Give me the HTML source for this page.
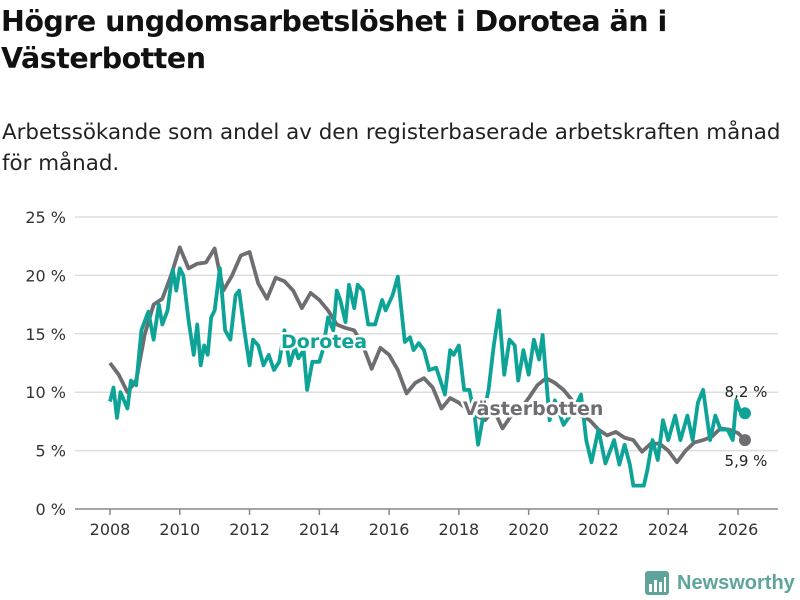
<!DOCTYPE html>
<html><head><meta charset="utf-8"><style>
body{margin:0;width:800px;height:600px;background:#fff;font-family:"Liberation Sans",sans-serif;overflow:hidden;position:relative}
.t{position:absolute;left:1px;font-family:"DejaVu Sans",sans-serif;font-weight:bold;font-size:28.5px;color:#111;white-space:nowrap;letter-spacing:-0.5px}
.s{position:absolute;left:2px;font-family:"DejaVu Sans",sans-serif;font-size:21.4px;color:#222;white-space:nowrap}
</style></head><body>
<div class="t" style="top:5px">Högre ungdomsarbetslöshet i Dorotea än i</div>
<div class="t" style="top:42px">Västerbotten</div>
<div class="s" style="top:120px">Arbetssökande som andel av den registerbaserade arbetskraften månad</div>
<div class="s" style="top:151px">för månad.</div>
<svg id="c" width="800" height="600" style="position:absolute;left:0;top:0"></svg>
<script>
const yTicks=[0,5,10,15,20,25];
const xTicks=[2008,2010,2012,2014,2016,2018,2020,2022,2024,2026];
const vbDates=[2008,2008.25,2008.5,2008.75,2009,2009.25,2009.5,2009.75,2010,2010.25,2010.5,2010.75,2011,2011.25,2011.5,2011.75,2012,2012.25,2012.5,2012.75,2013,2013.25,2013.5,2013.75,2014,2014.25,2014.5,2014.75,2015,2015.25,2015.5,2015.75,2016,2016.25,2016.5,2016.75,2017,2017.25,2017.5,2017.75,2018,2018.25,2018.5,2018.75,2019,2019.25,2019.5,2019.75,2020,2020.25,2020.5,2020.75,2021,2021.25,2021.5,2021.75,2022,2022.25,2022.5,2022.75,2023,2023.25,2023.5,2023.75,2024,2024.25,2024.5,2024.75,2025,2025.25,2025.5,2025.75,2026,2026.2];
const vbValues=[12.5,11.5,10,11,15,17.5,18,20,22.4,20.6,21,21.1,22.3,18.7,20,21.7,22,19.3,18,19.8,19.5,18.7,17.2,18.5,17.9,17,15.8,15.5,15.3,14,12,13.8,13.2,11.9,9.9,10.8,11.2,10.4,8.6,9.5,9.1,8.5,8,7.6,8.5,6.9,8,8.5,9.5,10.6,11.2,10.8,10.2,9.3,8,7.6,6.8,6.3,6.6,6.1,5.9,4.9,5.6,5.6,5,4,5,5.7,5.9,6.2,6.9,6.8,6.5,5.9];
const doDates=[2008,2008.1,2008.2,2008.3,2008.5,2008.6,2008.75,2008.9,2009.1,2009.25,2009.4,2009.5,2009.65,2009.8,2009.9,2010,2010.1,2010.25,2010.4,2010.5,2010.6,2010.7,2010.8,2010.9,2011,2011.15,2011.3,2011.45,2011.6,2011.7,2011.85,2012,2012.1,2012.25,2012.4,2012.55,2012.7,2012.85,2013,2013.15,2013.3,2013.4,2013.55,2013.65,2013.8,2014,2014.1,2014.25,2014.4,2014.5,2014.6,2014.75,2014.85,2015,2015.1,2015.25,2015.4,2015.6,2015.8,2015.9,2016.1,2016.25,2016.45,2016.6,2016.7,2016.85,2017,2017.15,2017.35,2017.6,2017.75,2017.85,2018,2018.15,2018.3,2018.45,2018.55,2018.7,2018.85,2019,2019.15,2019.3,2019.45,2019.6,2019.7,2019.85,2020,2020.15,2020.3,2020.4,2020.6,2020.75,2021,2021.3,2021.5,2021.65,2021.8,2022,2022.2,2022.45,2022.6,2022.75,2022.9,2023,2023.3,2023.4,2023.55,2023.7,2023.85,2024,2024.2,2024.35,2024.55,2024.7,2024.85,2025,2025.2,2025.35,2025.5,2025.7,2025.85,2025.95,2026.05,2026.2];
const doValues=[9.2,10.4,7.8,10,8.6,11,10.6,15.3,16.9,14.5,17.5,15.8,17,20.5,18.7,20.6,20,16.2,13.2,15.8,12.3,14,13.2,16.4,17,20.6,15.3,14.5,18.3,18.7,15.3,12.3,14.5,14,12.3,13.2,11.9,12.6,15.3,12.3,13.8,12.9,13.6,10.2,12.6,12.6,13.6,16.4,15.3,18.7,17.9,16,19.2,17.2,19.2,18.7,15.8,15.8,17.9,17,18.3,19.9,14.3,14.7,13.6,14.2,13.6,11.9,12.1,9.8,13.6,13.2,14,10.2,10.2,8,5.5,8,10.2,14,17,11.5,14.5,14,11,13.6,11.5,14.5,12.8,14.9,7.6,9.3,7.2,8.5,9.8,5.9,4,6.8,3.9,5.9,3.8,5.5,3.8,2,2,3.3,5.9,4.2,7.6,5.9,8,5.9,8,5.9,9.1,10.2,5.9,8,6.8,6.8,5.9,9.3,8.4,8.2];
const NS='http://www.w3.org/2000/svg';
const svg=document.getElementById('c');
const X=v=>110+(v-2008)*(738-110)/18;
const Y=v=>509-v*(509-217)/25;
function mk(t,a){const e=document.createElementNS(NS,t);for(const k in a)e.setAttribute(k,a[k]);svg.appendChild(e);return e;}
yTicks.forEach(v=>{
  const l=mk('line',{x1:75,x2:778,y1:Y(v),y2:Y(v),stroke:v===0?'#888':'#ddd','stroke-width':1.5});
  
  
  const t=mk('text',{x:66,y:Y(v)+6,'text-anchor':'end','font-size':16,fill:'#333','font-family':'DejaVu Sans, sans-serif'});
  t.textContent=v+' %';
  
  
});
xTicks.forEach(v=>{
  const l=mk('line',{x1:X(v),x2:X(v),y1:509,y2:515,stroke:'#888','stroke-width':1.5});
  
  
  const t=mk('text',{x:X(v),y:535,'text-anchor':'middle','font-size':16,fill:'#333','font-family':'DejaVu Sans, sans-serif'});
  t.textContent=v;
  
  
});
function line(d,v,c,name){
  const p=mk('polyline',{points:d.map((x,i)=>X(x)+','+Y(v[i])).join(' '),fill:'none',stroke:c,'stroke-width':3.8,'stroke-linejoin':'round'});
  
  
}
line(vbDates,vbValues,'#6e6d72','vasterbotten-line');
line(doDates,doValues,'#0ea397','dorotea-line');
function lab(x,y,txt,c,name){
  const t=mk('text',{x:x,y:y,'font-size':19,'font-weight':'bold',fill:c,stroke:'#fff','stroke-width':5,'paint-order':'stroke','font-family':'DejaVu Sans, sans-serif'});
  t.textContent=txt;
  
  
}
lab(281,348,'Dorotea','#0ea397','dorotea-label');
lab(463,415,'Västerbotten','#6e6d72','vasterbotten-label');
const d1=mk('circle',{cx:X(doDates[doDates.length-1]),cy:Y(doValues[doValues.length-1]),r:6,fill:'#0ea397'});


const d2=mk('circle',{cx:X(vbDates[vbDates.length-1]),cy:Y(vbValues[vbValues.length-1]),r:6,fill:'#6e6d72'});


function val(y,v,name){
  const t=mk('text',{x:746,y:y,'text-anchor':'middle','font-size':15,fill:'#222','font-family':'DejaVu Sans, sans-serif'});
  t.textContent=v.toFixed(1).replace('.',',')+' %';
  
  
}
val(Y(doValues[doValues.length-1])-16,doValues[doValues.length-1],'dorotea-end-value');
val(Y(vbValues[vbValues.length-1])+26,vbValues[vbValues.length-1],'vasterbotten-end-value');
</script>
<div style="position:absolute;left:644px;top:570px;display:flex;align-items:center">
<svg width="26" height="26"><rect x="1" y="1" width="24" height="24" rx="3" fill="#5fa49a"/><rect x="5" y="14" width="3" height="8" fill="#fff"/><rect x="10" y="10" width="3" height="12" fill="#fff"/><rect x="15" y="12" width="3" height="10" fill="#fff"/><rect x="20" y="7" width="2" height="15" fill="#fff"/></svg>
<span style="margin-left:7px;font-size:20px;font-weight:bold;color:#5fa49a">Newsworthy</span></div>
</body></html>
